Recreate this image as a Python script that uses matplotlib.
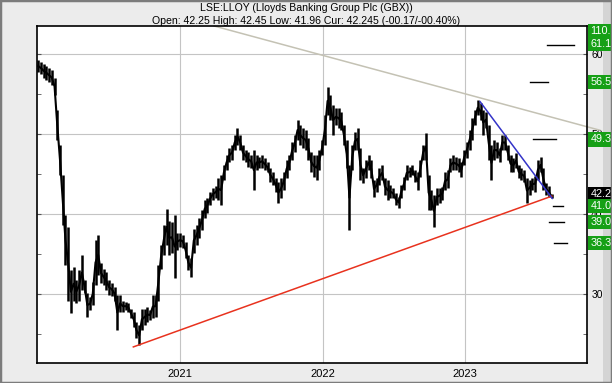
import pandas as pd
import matplotlib
matplotlib.use("Agg")
import matplotlib.pyplot as plt
import matplotlib.transforms as mtransforms
from matplotlib.patches import Rectangle

plt.rcParams['font.family'] = ['Liberation Sans', 'DejaVu Sans']

# weekly bars, LSE:LLOY (GBX)
weeks = pd.date_range('2020-01-03', periods=189, freq='7D')
high = [59.2, 59.0, 58.8, 58.5, 58.2, 58.0, 57.0, 53.0, 48.6, 44.9,
        39.9, 38.4, 33.0, 33.4, 31.8, 33.0, 34.9, 31.8, 30.2, 29.6,
        31.5, 36.8, 37.4, 33.9, 33.2, 32.8, 31.8, 31.4, 30.9, 29.9,
        29.9, 29.2, 29.0, 28.9, 28.2, 27.8, 26.5, 26.1, 28.2, 28.2,
        28.4, 28.0, 29.9, 29.9, 33.6, 36.1, 38.6, 40.7, 39.2, 39.0,
        39.9, 37.7, 37.6, 37.4, 36.5, 34.9, 34.5, 38.2, 38.6, 39.5,
        40.5, 41.8, 42.0, 42.8, 43.2, 43.5, 44.5, 44.9, 46.1, 47.4,
        48.2, 48.6, 49.9, 50.8, 49.9, 48.6, 48.0, 47.8, 47.4, 48.0,
        47.4, 47.1, 47.4, 47.0, 46.5, 45.8, 45.2, 44.5, 44.0, 44.5,
        45.2, 46.8, 47.4, 49.0, 49.9, 51.8, 51.1, 50.8, 50.5, 49.5,
        47.8, 47.4, 47.4, 48.0, 49.2, 52.4, 55.9, 54.9, 53.6, 53.2,
        53.2, 52.8, 51.1, 49.2, 46.1, 48.6, 50.2, 50.8, 48.2, 45.8,
        46.8, 47.4, 46.8, 44.2, 44.5, 45.8, 46.1, 44.5, 44.2, 43.6,
        43.2, 42.6, 42.1, 43.6, 44.6, 46.1, 45.9, 46.1, 45.5, 45.2,
        46.8, 48.6, 50.1, 44.9, 43.0, 42.4, 43.2, 43.2, 43.4, 45.2,
        45.5, 47.0, 47.4, 47.1, 47.0, 46.5, 48.0, 49.0, 50.5, 52.0,
        53.0, 54.2, 53.9, 53.0, 52.8, 51.1, 48.6, 49.2, 49.0, 48.2,
        49.9, 49.9, 48.6, 47.4, 47.0, 47.6, 46.1, 45.8, 45.5, 44.5,
        44.2, 44.5, 44.8, 46.8, 47.1, 45.8, 43.9, 43.5, 42.45]
low = [57.8, 57.5, 57.0, 56.8, 56.5, 56.1, 54.9, 49.2, 44.9, 38.6,
       33.6, 29.2, 27.6, 29.2, 28.9, 29.2, 30.5, 30.1, 27.1, 28.0,
       28.6, 31.1, 32.4, 31.4, 31.1, 30.5, 29.9, 29.8, 29.2, 25.5,
       27.8, 27.8, 28.0, 27.8, 27.0, 25.9, 24.5, 23.6, 25.5, 26.1,
       26.5, 26.8, 27.0, 27.1, 29.2, 33.2, 34.9, 36.1, 34.9, 35.2,
       32.0, 35.5, 35.9, 35.8, 34.5, 33.0, 32.1, 35.2, 36.1, 37.0,
       38.0, 39.5, 40.2, 41.1, 41.8, 42.0, 41.8, 41.1, 44.2, 45.5,
       46.5, 46.8, 48.0, 48.6, 48.0, 46.8, 46.5, 45.9, 45.8, 43.0,
       45.5, 45.8, 45.8, 45.5, 45.2, 44.0, 43.6, 42.8, 41.4, 42.0,
       43.0, 44.5, 45.5, 46.8, 47.8, 49.2, 48.6, 48.2, 48.0, 46.8,
       45.2, 44.6, 44.2, 45.5, 47.4, 48.6, 52.4, 51.8, 49.9, 51.1,
       50.8, 50.5, 48.6, 45.8, 38.0, 45.5, 48.0, 48.0, 44.2, 43.9,
       44.5, 45.5, 44.5, 42.1, 42.8, 43.6, 44.2, 42.4, 41.8, 42.0,
       42.0, 41.1, 40.8, 42.0, 43.0, 44.2, 44.6, 44.9, 44.0, 43.0,
       44.6, 46.8, 46.8, 40.5, 40.5, 38.4, 41.1, 41.4, 41.8, 43.0,
       43.2, 45.2, 45.5, 45.5, 45.2, 44.6, 46.1, 47.0, 48.0, 49.2,
       51.1, 52.4, 51.8, 49.9, 50.8, 46.8, 44.2, 46.8, 47.0, 46.5,
       48.0, 48.0, 46.8, 45.2, 45.2, 45.8, 44.5, 44.2, 44.0, 41.4,
       42.4, 43.0, 42.8, 44.2, 45.2, 43.0, 42.4, 42.1, 41.96]

# trend lines: (start date, start price, end date, end price)
resistance = ('2021-03-29', 63.5, '2023-12-13', 50.48)
down_trend = ('2023-02-09', 54.04, '2023-08-13', 41.96)
support = ('2020-09-03', 23.41, '2023-08-12', 42.25)

# target levels and the short marks drawn for them
targets = [61.18, 56.53, 49.33, 41.03, 39.03, 36.38]
target_from = ['2023-07-30', '2023-06-17', '2023-06-25', '2023-08-15', '2023-08-05', '2023-08-18']
target_to = ['2023-10-08', '2023-08-02', '2023-08-23', '2023-09-09', '2023-09-13', '2023-09-19']
box_labels = ['110.39', '61.18', '56.53', '49.33', '41.03', '39.03', '36.38']
box_levels = [62.85, 61.25, 56.53, 49.33, 41.03, 39.03, 36.38]
cur_price = 42.245
year_ticks = ['2021-01-01', '2022-01-01', '2023-01-01']
year_labels = ['2021', '2022', '2023']

fig = plt.figure(figsize=(6.12, 3.83), dpi=100, facecolor='#ececec')
ax = fig.add_axes([37 / 612, 20 / 383, 550 / 612, 337 / 383])
ax.set_facecolor('white')

mid = [(h + l) / 2 for h, l in zip(high, low)]
ax.vlines(weeks, low, high, color='black', lw=1.8, zorder=3)
ax.plot(weeks, mid, color='black', lw=1.5, zorder=3)

for (d0, p0, d1, p1), col in [(support, '#e8321e'), (down_trend, '#3434c8')]:
    ax.plot(pd.to_datetime([d0, d1]), [p0, p1], color=col, lw=1.1, zorder=4)
d0, p0, d1, p1 = resistance
ax.plot(pd.to_datetime([d0, d1]), [p0, p1], color='#c4c2b4', lw=1.1, zorder=2, clip_on=False)

for lvl, a, b in zip(targets, target_from, target_to):
    ax.plot(pd.to_datetime([a, b]), [lvl, lvl], color='black', lw=1.0, zorder=4)

ax.set_xlim(pd.Timestamp('2019-12-31'), pd.Timestamp('2023-11-10'))
ax.set_ylim(21.4, 63.5)

ax.set_xticks(pd.to_datetime(year_ticks))
ax.set_xticklabels(year_labels)
ax.set_yticks([30, 40, 50, 60])
ax.set_yticks([25, 35, 45, 55], minor=True)
ax.yaxis.tick_right()
ax.tick_params(axis='y', which='both', direction='in', left=True, right=True,
               labelsize=7.5, pad=3, length=3, color='#555555')
ax.tick_params(axis='x', length=0, labelsize=8, pad=4)
ax.grid(True, which='major', color='#c4c4c4', lw=0.8)
ax.set_axisbelow(True)
for s in ax.spines.values():
    s.set_linewidth(1.2)
    s.set_color('black')

trans = mtransforms.blended_transform_factory(ax.transAxes, ax.transData)
ax.text(1.006, cur_price + 0.25, '42.245', transform=trans, ha='left', va='center',
        fontsize=7.8, color='white', zorder=5, clip_on=False,
        bbox=dict(boxstyle='square,pad=0.2', fc='black', ec='none'))
for lab, lvl in zip(box_labels, box_levels):
    ax.text(1.006, lvl, lab, transform=trans, ha='left', va='center', fontsize=7.8,
            color='white', zorder=6, clip_on=False,
            bbox=dict(boxstyle='square,pad=0.2', fc='#16a016', ec='none'))

fig.text(0.5, 0.993, 'LSE:LLOY (Lloyds Banking Group Plc (GBX))', ha='center', va='top', fontsize=7.6)
fig.text(0.5, 0.958, 'Open: 42.25 High: 42.45 Low: 41.96 Cur: 42.245 (-00.17/-00.40%)',
         ha='center', va='top', fontsize=7.6)

fig.patches.append(Rectangle((0.985, 0), 0.015, 1, transform=fig.transFigure,
                             fc='#d4d4d4', ec='none', zorder=-1))
fig.patches.append(Rectangle((0, 0), 1, 1, transform=fig.transFigure, fill=False,
                             ec='#7c7c7c', lw=2.5))

fig.savefig('out.png', dpi=100, facecolor=fig.get_facecolor())
